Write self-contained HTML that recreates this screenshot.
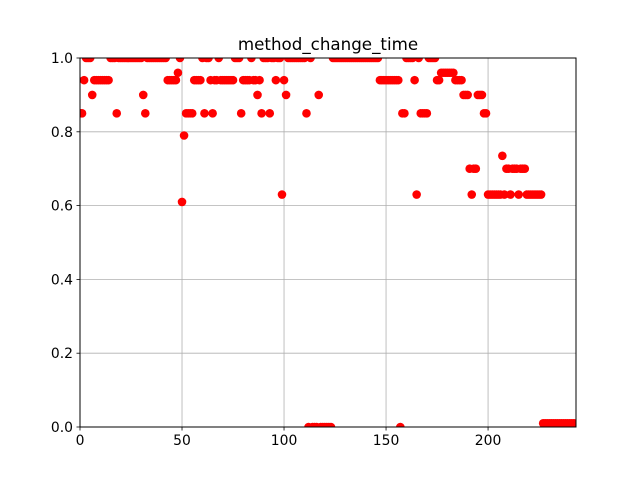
<!DOCTYPE html>
<html><head><meta charset="utf-8">
<style>html,body{margin:0;padding:0;background:#fff;}svg{display:block;font-family:"DejaVu Sans","Liberation Sans",sans-serif;}</style>
</head><body>
<svg id="chart" width="640" height="480" viewBox="0 0 640 480" xmlns="http://www.w3.org/2000/svg">
<defs><clipPath id="clip"><rect x="80" y="58" width="496" height="369"/></clipPath></defs>
<rect x="0" y="0" width="640" height="480" fill="#fff"/>
<text x="328" y="50" text-anchor="middle" font-size="16.7" fill="#000">method_change_time</text>
<g id="grid"></g>
<g id="points" clip-path="url(#clip)"></g>
<rect x="80" y="58" width="496" height="369" fill="none" stroke="#000" stroke-width="1"/>
<g id="ticks"></g>
</svg>
<script>
const xTicks = [0, 50, 100, 150, 200];
const yTicks = [0.0, 0.2, 0.4, 0.6, 0.8, 1.0];
const yTickLabels = ["0.0", "0.2", "0.4", "0.6", "0.8", "1.0"];
const values = [
.85,.85,.94,1,1,1,.90,.94,.94,.94,
.94,.94,.94,.94,.94,1,1,1,.85,1,
1,1,1,1,1,1,1,1,1,1,
1,.90,.85,1,1,1,1,1,1,1,
1,1,1,.94,.94,.94,.94,.94,.96,1,
.61,.79,.85,.85,.85,.85,.94,.94,.94,.94,
1,.85,1,1,.94,.85,.94,.94,1,.94,
.94,.94,.94,.94,.94,.94,1,1,1,.85,
.94,.94,.94,.94,1,.94,.94,.90,.94,.85,
1,1,1,.85,1,1,.94,1,1,.63,
.94,.90,1,1,1,1,1,1,1,1,
1,.85,0,1,0,0,0,.90,0,0,
0,0,0,0,1,1,1,1,1,1,
1,1,1,1,1,1,1,1,1,1,
1,1,1,1,1,1,1,.94,.94,.94,
.94,.94,.94,.94,.94,.94,.94,0,.85,.85,
1,1,1,1,.94,.63,1,.85,.85,.85,
.85,1,1,1,1,.94,.94,.96,.96,.96,
.96,.96,.96,.96,.94,.94,.94,.94,.90,.90,
.90,.70,.63,.70,.70,.90,.90,.90,.85,.85,
.63,.63,.63,.63,.63,.63,.63,.735,.63,.70,
.70,.63,.70,.70,.70,.63,.70,.70,.70,.63,
.63,.63,.63,.63,.63,.63,.63,.01,.01,.01,
.01,.01,.01,.01,.01,.01,.01,.01,.01,.01,
.01,.01,.01
];
const xMin = 0, xMax = 243.1, yMin = 0, yMax = 1;
const L = 80, R = 576, T = 58, B = 427;
const sx = v => L + (v - xMin) / (xMax - xMin) * (R - L);
const sy = v => B - (v - yMin) / (yMax - yMin) * (B - T);
const NS = "http://www.w3.org/2000/svg";
const grid = document.getElementById('grid');
const ticks = document.getElementById('ticks');
const pts = document.getElementById('points');
function mk(tag, attrs, parent) {
  const e = document.createElementNS(NS, tag);
  for (const k in attrs) e.setAttribute(k, attrs[k]);
  parent.appendChild(e);
  return e;
}
xTicks.forEach(t => {
  const x = sx(t);
  const g = mk('line', {x1: x, x2: x, y1: T, y2: B, stroke: '#b0b0b0', 'stroke-width': 0.8}, grid);
  
  
  const tk = mk('line', {x1: x, x2: x, y1: B, y2: B + 3.5, stroke: '#000', 'stroke-width': 0.8}, ticks);
  
  
  const lb = mk('text', {x: x, y: B + 18, 'text-anchor': 'middle', 'font-size': 13.9, fill: '#000'}, ticks);
  lb.textContent = String(t);
  
  
});
yTicks.forEach((t, i) => {
  const y = sy(t);
  const g = mk('line', {x1: L, x2: R, y1: y, y2: y, stroke: '#b0b0b0', 'stroke-width': 0.8}, grid);
  
  
  const tk = mk('line', {x1: L - 3.5, x2: L, y1: y, y2: y, stroke: '#000', 'stroke-width': 0.8}, ticks);
  
  
  const lb = mk('text', {x: L - 7, y: y + 5, 'text-anchor': 'end', 'font-size': 13.9, fill: '#000'}, ticks);
  lb.textContent = yTickLabels[i];
  
  
});
values.forEach((v, i) => {
  const c = mk('circle', {cx: sx(i), cy: sy(v), r: 4.3, fill: '#ff0000'}, pts);
  
  
});
</script>
</body></html>
